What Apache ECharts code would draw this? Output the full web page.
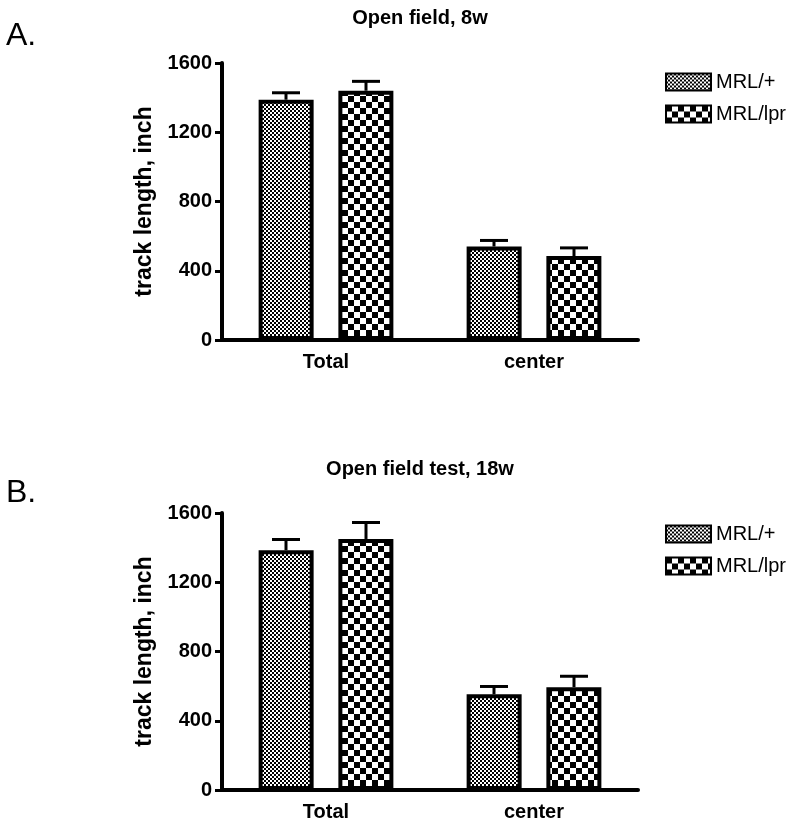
<!DOCTYPE html>
<html>
<head>
<meta charset="utf-8">
<script src="https://cdn.jsdelivr.net/npm/echarts@6/dist/echarts.min.js"></script>
<style>
  html, body { margin: 0; padding: 0; background: #fff; }
  #main { width: 800px; height: 827px; }
</style>
</head>
<body>
<div id="main"></div>
<script>
// data
const categories = ['Total', 'center'];
const seriesNames = ['MRL/+', 'MRL/lpr'];
const yTicks = [0, 400, 800, 1200, 1600];

// panel A: open field, 8w
const a_mrl = [1388, 540];
const a_mrlErr = [40, 35];
const a_lpr = [1440, 485];
const a_lprErr = [54, 47];

// panel B: open field test, 18w
const b_mrl = [1385, 553];
const b_mrlErr = [62, 45];
const b_lpr = [1450, 594];
const b_lprErr = [95, 63];

const FONT = 'Liberation Sans';

// checker patterns
function checker(period, sq) {
  const c = document.createElement('canvas');
  c.width = period; c.height = period;
  const ctx = c.getContext('2d');
  ctx.fillStyle = '#fff';
  ctx.fillRect(0, 0, period, period);
  ctx.fillStyle = '#000';
  const h = period / 2;
  ctx.fillRect(0, 0, sq, sq);
  ctx.fillRect(h, h, sq, sq);
  return c;
}
const finePattern = { image: checker(4, 2), repeat: 'repeat' };
const coarsePattern = { image: checker(12, 6), repeat: 'repeat' };

const chart = echarts.init(document.getElementById('main'));

const grids = [
  { left: 222, right: 162, top: 63, height: 277 },
  { left: 222, right: 162, top: 513, height: 277 }
];

function xAxis(i) {
  return {
    type: 'category', gridIndex: i, data: categories,
    axisLine: { lineStyle: { color: '#000', width: 4 } },
    axisTick: { alignWithLabel: true, length: 7, lineStyle: { width: 3, color: '#000' } },
    axisLabel: { color: '#000', fontFamily: FONT, fontWeight: 'bold', fontSize: 20, margin: 12 }
  };
}
function yAxis(i) {
  return {
    type: 'value', gridIndex: i, min: 0, max: 1600, interval: 400,
    name: 'track length, inch', nameLocation: 'middle', nameGap: 64,
    nameTextStyle: { color: '#000', fontFamily: FONT, fontWeight: 'bold', fontSize: 23 },
    splitLine: { show: false },
    axisLine: { show: true, lineStyle: { color: '#000', width: 4 } },
    axisTick: { show: true, length: 7, lineStyle: { width: 3, color: '#000' } },
    axisLabel: { color: '#000', fontFamily: FONT, fontWeight: 'bold', fontSize: 20, margin: 10,
      formatter: v => yTicks.includes(v) ? String(v) : '' }
  };
}

function bars(i, name, values, pattern) {
  return {
    type: 'bar', name: name, xAxisIndex: i, yAxisIndex: i,
    data: values, barWidth: 55, barGap: '45%',
    itemStyle: { color: pattern, borderColor: '#000', borderWidth: 4 },
    emphasis: { disabled: true }, z: 2
  };
}

function errors(i, values, errs, offset) {
  return {
    type: 'custom', xAxisIndex: i, yAxisIndex: i, z: 1, silent: true,
    data: values.map((v, k) => [k, v, errs[k]]),
    renderItem: function (params, api) {
      const base = api.coord([api.value(0), api.value(1)]);
      const top = api.coord([api.value(0), api.value(1) + api.value(2)]);
      const x = base[0] + offset;
      const st = { stroke: '#000', lineWidth: 3 };
      return {
        type: 'group',
        children: [
          { type: 'line', shape: { x1: x, y1: base[1], x2: x, y2: top[1] }, style: st },
          { type: 'line', shape: { x1: x - 14, y1: top[1], x2: x + 14, y2: top[1] }, style: st }
        ]
      };
    }
  };
}

function legend(top) {
  return {
    data: seriesNames, orient: 'vertical', left: 660, top: top, icon: 'rect',
    itemWidth: 45, itemHeight: 17, itemGap: 12, selectedMode: false,
    textStyle: { color: '#000', fontFamily: FONT, fontSize: 20 }
  };
}

const titleStyle = { color: '#000', fontFamily: FONT, fontWeight: 'bold', fontSize: 20 };
const letterStyle = { color: '#000', fontFamily: FONT, fontWeight: 'normal', fontSize: 32 };

chart.setOption({
  animation: false,
  title: [
    { text: 'Open field, 8w', left: 415, top: 3, textAlign: 'center', textStyle: titleStyle },
    { text: 'Open field test, 18w', left: 415, top: 454, textAlign: 'center', textStyle: titleStyle },
    { text: 'A.', left: 1, top: 15, textStyle: letterStyle },
    { text: 'B.', left: 1, top: 472, textStyle: letterStyle }
  ],
  legend: [legend(67), legend(519)],
  grid: grids,
  xAxis: [xAxis(0), xAxis(1)],
  yAxis: [yAxis(0), yAxis(1)],
  series: [
    bars(0, seriesNames[0], a_mrl, finePattern),
    bars(0, seriesNames[1], a_lpr, coarsePattern),
    errors(0, a_mrl, a_mrlErr, -40),
    errors(0, a_lpr, a_lprErr, 40),
    bars(1, seriesNames[0], b_mrl, finePattern),
    bars(1, seriesNames[1], b_lpr, coarsePattern),
    errors(1, b_mrl, b_mrlErr, -40),
    errors(1, b_lpr, b_lprErr, 40)
  ]
});
</script>
</body>
</html>
